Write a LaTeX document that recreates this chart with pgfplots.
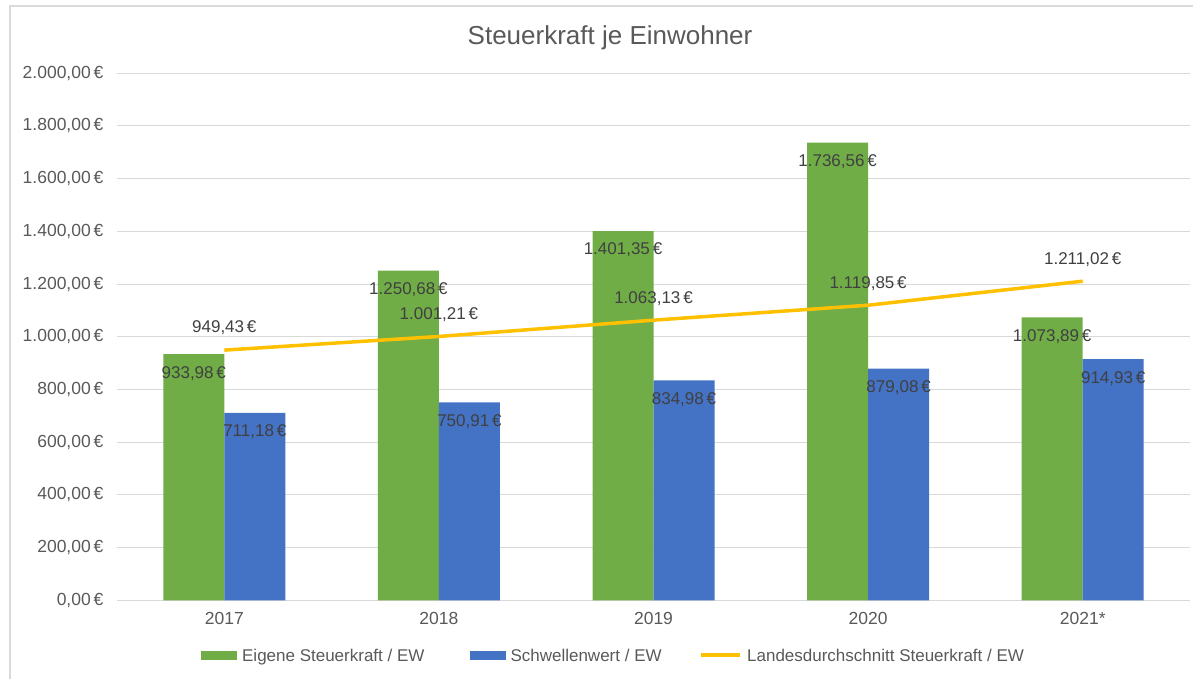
\documentclass[border=0pt]{standalone}
\usepackage{fontspec}
\setmainfont{Liberation Sans}
\usepackage{pgfplots}
\usepackage{pgfplotstable}
\pgfplotsset{compat=1.18}
\definecolor{cgreen}{HTML}{70AD47}
\definecolor{cblue}{HTML}{4472C4}
\definecolor{cyell}{HTML}{FFC000}
\definecolor{cgrid}{HTML}{D9D9D9}
\definecolor{ctick}{HTML}{595959}
\definecolor{clab}{HTML}{404040}

\pgfplotstableread{
x eig sw land le ls ll
0 933.98 711.18 949.43 933,98 711,18 949,43
1 1250.68 750.91 1001.21 1.250,68 750,91 1.001,21
2 1401.35 834.98 1063.13 1.401,35 834,98 1.063,13
3 1736.56 879.08 1119.85 1.736,56 879,08 1.119,85
4 1073.89 914.93 1211.02 1.073,89 914,93 1.211,02
}\data

\begin{document}
\begin{tikzpicture}
\useasboundingbox (0,0) rectangle (1193pt,678pt);
\draw[cgrid, line width=1.5pt] (10pt,-10pt) -- (10pt,672pt) -- (1210pt,672pt);
\begin{axis}[
  at={(117pt,77.7pt)}, anchor=south west,
  scale only axis, width=1073pt, height=527pt,
  xmin=-0.5, xmax=4.5, ymin=0, ymax=2000,
  xtick={0,1,2,3,4}, xticklabels={2017,2018,2019,2020,2021*},
  ytick={0,200,...,2000},
  yticklabels={{0,00\,€},{200,00\,€},{400,00\,€},{600,00\,€},{800,00\,€},{1.000,00\,€},{1.200,00\,€},{1.400,00\,€},{1.600,00\,€},{1.800,00\,€},{2.000,00\,€}},
  major tick length=0pt,
  axis line style={draw=none},
  ymajorgrids, grid style={cgrid, line width=1pt},
  tick label style={font=\fontsize{17.5}{20}\selectfont, text=ctick},
  yticklabel style={xshift=-10pt},
  xticklabel style={yshift=-8pt},
  /pgf/number format/assume math mode=true,
  clip=false,
  title={Steuerkraft je Einwohner},
  title style={at={(0.4595,1.0575)}, anchor=base, yshift=-8pt, font=\fontsize{26}{30}\selectfont, text=ctick},
  legend style={at={(0.4628,-0.1057)}, anchor=center, draw=none, fill=none,
    legend columns=3, font=\fontsize{17}{20}\selectfont, text=ctick,
    /tikz/every odd column/.append style={column sep=3pt},
    /tikz/column 2/.style={column sep=43pt},
    /tikz/column 4/.style={column sep=36pt}},
  point meta=explicit symbolic,
  nodes near coords={\pgfplotspointmeta\,€},
  every node near coord/.append style={anchor=center, font=\fontsize{17}{20}\selectfont, text=clab},
]
\addplot[ybar, bar width=61pt, bar shift=-30.5pt, fill=cgreen, draw=none,
  every node near coord/.append style={yshift=-19pt, xshift=-30.5pt},
  legend image code/.code={\fill[cgreen] (0pt,-3.5pt) rectangle (36pt,5.5pt);}]
  table[x=x, y=eig, meta=le]{\data};
\addlegendentry{Eigene Steuerkraft / EW}
\addplot[ybar, bar width=61pt, bar shift=30.5pt, fill=cblue, draw=none,
  every node near coord/.append style={yshift=-19pt, xshift=30.5pt},
  legend image code/.code={\fill[cblue] (0pt,-3.5pt) rectangle (36pt,5.5pt);}]
  table[x=x, y=sw, meta=ls]{\data};
\addlegendentry{Schwellenwert / EW}
\addplot[cyell, line width=3.5pt, mark=none,
  every node near coord/.append style={yshift=22pt},
  legend image code/.code={\draw[cyell, line width=3.5pt] (0pt,1pt) -- (39pt,1pt);}]
  table[x=x, y=land, meta=ll]{\data};
\addlegendentry{Landesdurchschnitt Steuerkraft / EW}
\end{axis}
\end{tikzpicture}
\end{document}
